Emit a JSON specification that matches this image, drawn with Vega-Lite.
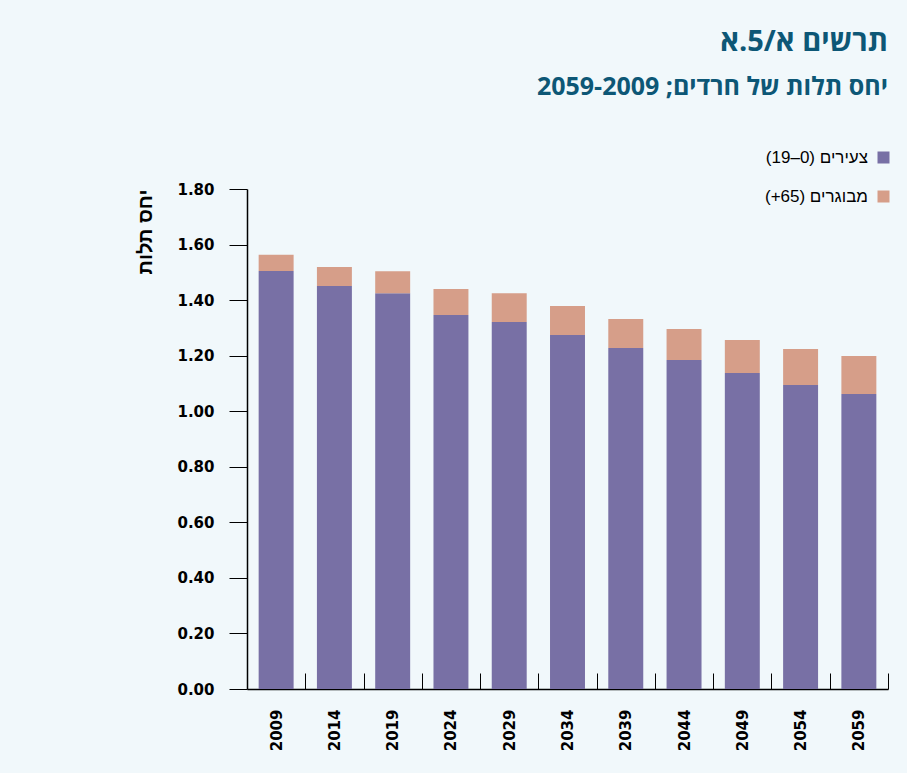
{
  "$schema": "https://vega.github.io/schema/vega-lite/v6.json",
  "width": 641,
  "height": 500,
  "autosize": {"type": "none"},
  "padding": {"left": 247, "top": 189, "right": 19, "bottom": 84},
  "background": "#f1f8fb",
  "title": {
    "text": "תרשים א/5.א",
    "subtitle": "יחס תלות של חרדים; 2059-2009",
    "anchor": "end",
    "frame": "group",
    "offset": 49,
    "font": "Open Sans",
    "fontSize": 29,
    "fontWeight": "bold",
    "color": "#0d5776",
    "subtitleFont": "Open Sans",
    "subtitleFontSize": 25,
    "subtitleFontWeight": "bold",
    "subtitleColor": "#0d5776",
    "subtitlePadding": 18
  },
  "config": {
    "view": {"stroke": null},
    "font": "DejaVu Sans"
  },
  "data": {
    "values": [
      {"year": "2009", "group": "(19–0) צעירים", "ord": 1, "value": 1.505},
      {"year": "2009", "group": "(+65) מבוגרים", "ord": 2, "value": 0.058},
      {"year": "2014", "group": "(19–0) צעירים", "ord": 1, "value": 1.451},
      {"year": "2014", "group": "(+65) מבוגרים", "ord": 2, "value": 0.068},
      {"year": "2019", "group": "(19–0) צעירים", "ord": 1, "value": 1.425},
      {"year": "2019", "group": "(+65) מבוגרים", "ord": 2, "value": 0.079},
      {"year": "2024", "group": "(19–0) צעירים", "ord": 1, "value": 1.346},
      {"year": "2024", "group": "(+65) מבוגרים", "ord": 2, "value": 0.094},
      {"year": "2029", "group": "(19–0) צעירים", "ord": 1, "value": 1.321},
      {"year": "2029", "group": "(+65) מבוגרים", "ord": 2, "value": 0.104},
      {"year": "2034", "group": "(19–0) צעירים", "ord": 1, "value": 1.274},
      {"year": "2034", "group": "(+65) מבוגרים", "ord": 2, "value": 0.105},
      {"year": "2039", "group": "(19–0) צעירים", "ord": 1, "value": 1.228},
      {"year": "2039", "group": "(+65) מבוגרים", "ord": 2, "value": 0.104},
      {"year": "2044", "group": "(19–0) צעירים", "ord": 1, "value": 1.184},
      {"year": "2044", "group": "(+65) מבוגרים", "ord": 2, "value": 0.112},
      {"year": "2049", "group": "(19–0) צעירים", "ord": 1, "value": 1.138},
      {"year": "2049", "group": "(+65) מבוגרים", "ord": 2, "value": 0.118},
      {"year": "2054", "group": "(19–0) צעירים", "ord": 1, "value": 1.094},
      {"year": "2054", "group": "(+65) מבוגרים", "ord": 2, "value": 0.130},
      {"year": "2059", "group": "(19–0) צעירים", "ord": 1, "value": 1.062},
      {"year": "2059", "group": "(+65) מבוגרים", "ord": 2, "value": 0.137}
    ]
  },
  "mark": {"type": "bar"},
  "encoding": {
    "x": {
      "field": "year",
      "type": "ordinal",
      "scale": {"paddingInner": 0.4, "paddingOuter": 0.2},
      "axis": {
        "title": null,
        "labelAngle": 270,
        "labelFont": "DejaVu Sans",
        "labelFontSize": 15,
        "labelFontWeight": "bold",
        "labelColor": "#000000",
        "labelPadding": 36,
        "labelOffset": -29.14,
        "tickOffset": 29.14,
        "tickSize": -16,
        "tickColor": "#000000",
        "domainColor": "#000000",
        "domainWidth": 1.5
      }
    },
    "y": {
      "field": "value",
      "type": "quantitative",
      "stack": "zero",
      "scale": {"domain": [0, 1.8], "nice": false},
      "axis": {
        "title": "יחס תלות",
        "values": [0, 0.2, 0.4, 0.6, 0.8, 1.0, 1.2, 1.4, 1.6, 1.8],
        "format": ".2f",
        "grid": false,
        "tickSize": 18,
        "tickColor": "#000000",
        "domainColor": "#000000",
        "domainWidth": 1.5,
        "labelPadding": 15,
        "labelFont": "DejaVu Sans",
        "labelFontSize": 15,
        "labelFontWeight": "bold",
        "labelColor": "#000000",
        "titleFont": "Liberation Sans",
        "titleFontSize": 20,
        "titleFontWeight": "bold",
        "titleColor": "#000000",
        "titleAnchor": "end",
        "titlePadding": 21
      }
    },
    "color": {
      "field": "group",
      "type": "nominal",
      "scale": {
        "domain": ["(19–0) צעירים", "(+65) מבוגרים"],
        "range": ["#7870a5", "#d69e89"]
      },
      "legend": {
        "orient": "none",
        "legendX": 628,
        "legendY": -40,
        "title": null,
        "symbolType": "square",
        "symbolSize": 144,
        "symbolStrokeWidth": 0,
        "labelAlign": "right",
        "labelOffset": -24,
        "labelFont": "Liberation Sans",
        "labelFontSize": 17,
        "labelColor": "#000000",
        "rowPadding": 21
      }
    },
    "order": {"field": "ord", "type": "quantitative"}
  }
}
